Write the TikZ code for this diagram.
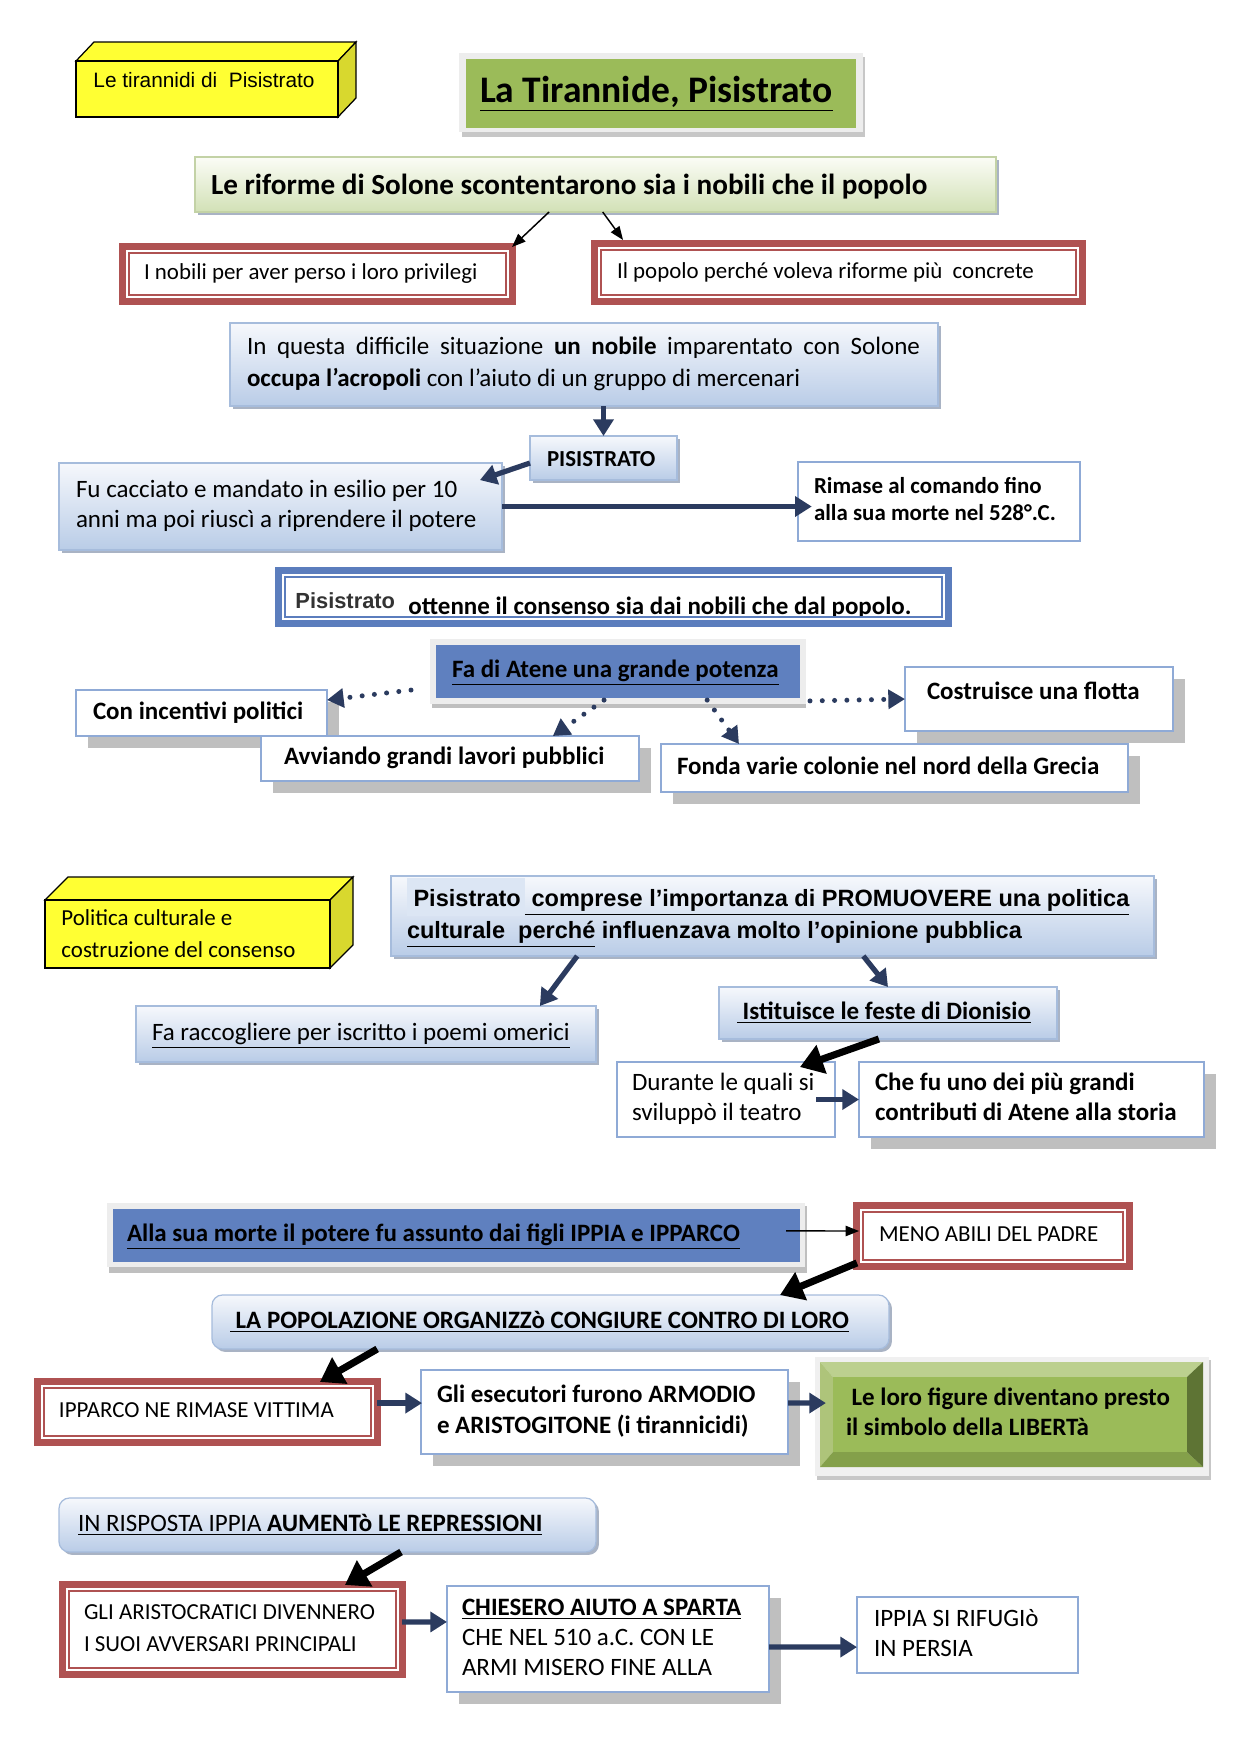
\documentclass[tikz,border=0pt]{standalone}
\usepackage{fontspec}
\setmainfont{Carlito}
\newfontfamily\arialf{Liberation Sans}
\usetikzlibrary{arrows.meta,calc,shadows}
\definecolor{navy}{HTML}{2B3B5F}
\definecolor{redF}{HTML}{AF5252}
\definecolor{blueF}{HTML}{5B7DBD}
\definecolor{fillB}{HTML}{5F80BF}
\definecolor{wbord}{HTML}{8FAAD6}
\definecolor{gtop}{HTML}{F6F8FC}
\definecolor{gbot}{HTML}{B9CCE7}
\definecolor{gbord}{HTML}{A6BCDC}
\definecolor{gshad}{HTML}{A9B3C4}
\definecolor{ggtop}{HTML}{FBFCF6}
\definecolor{ggbot}{HTML}{D2E1B6}
\definecolor{ggbord}{HTML}{C3D2A6}
\definecolor{olive}{HTML}{9BBB59}
\definecolor{shgrey}{HTML}{BFBFBF}
\definecolor{yel}{HTML}{FFFF33}
\definecolor{yelD}{HTML}{D8D82E}
\definecolor{hl}{HTML}{DCE6F4}
\definecolor{lbTop}{HTML}{BCD08F}
\definecolor{lbLeft}{HTML}{AEC47A}
\definecolor{lbBot}{HTML}{84A04A}
\definecolor{lbRight}{HTML}{5E7434}
\newcommand\mybox[8][]{%
  \pgfmathsetmacro\mbW{(#5-#3)*0.48}%
  \pgfmathsetmacro\mbH{(#6-#4)*0.48}%
  \pgfmathsetmacro\mbT{(#5-#3-2*#7)*0.48}%
  \pgfmathsetmacro\mbP{#7*0.48}%
  \node[anchor=north west, inner ysep=0pt, outer sep=0pt, minimum width=\mbW pt,
        minimum height=\mbH pt, inner xsep=\mbP pt, #1] (#2) at (#3,#4)
        {\makebox[\mbT pt][l]{\begin{tabular}{@{}l@{}}#8\end{tabular}}};}
\newcommand\dframe[2]{%
  \draw[draw=#2, line width=3.4pt] ([shift={(1.7pt,-1.7pt)}]#1.north west) rectangle ([shift={(-1.7pt,1.7pt)}]#1.south east);
  \draw[draw=#2, line width=0.7pt] ([shift={(4.8pt,-4.8pt)}]#1.north west) rectangle ([shift={(-4.8pt,4.8pt)}]#1.south east);}
\begin{document}
\begin{tikzpicture}[x=0.48pt,y=-0.48pt,
  f11/.style={font=\fontsize{11}{13.4}\selectfont},
  f12/.style={font=\fontsize{12}{14.4}\selectfont},
  bold12/.style={font=\bfseries\fontsize{12}{14.4}\selectfont},
  gradb/.style={draw=gbord, line width=0.6pt, top color=gtop, bottom color=gbot,
     drop shadow={shadow xshift=1.4pt,shadow yshift=-1.4pt,fill=gshad,opacity=1}},
  gradg/.style={draw=ggbord, line width=0.6pt, top color=ggtop, bottom color=ggbot,
     drop shadow={shadow xshift=1.4pt,shadow yshift=-1.4pt,fill=gshad,opacity=1}},
  wbox/.style={draw=wbord, line width=0.7pt, fill=white},
  wshad/.style={wbox, drop shadow={shadow xshift=5.8pt,shadow yshift=-5.8pt,fill=shgrey,opacity=1}},
  navyarr/.style={draw=navy, line width=2.5pt, -{Triangle[length=8pt,width=9.5pt]}},
  blackarr/.style={draw=black, line width=3.4pt, -{Triangle[length=11pt,width=14pt]}},
  dotarr/.style={draw=navy, line width=2.4pt, line cap=round, dash pattern=on 0pt off 5.9pt,
     -{Triangle[length=8pt,width=9pt]}},
  thinarr/.style={draw=black, line width=0.7pt, -{Triangle[length=6.5pt,width=5pt]}}]
\useasboundingbox (0,0) rectangle (1240,1754);
\fill[white] (0,0) rectangle (1240,1754);

% ---- yellow 3D box 1
\filldraw[fill=yel, draw=black, line width=0.6pt] (76,61) -- (94,42) -- (356,42) -- (338,61) -- cycle;
\filldraw[fill=yelD, draw=black, line width=0.6pt] (338,61) -- (356,42) -- (356,98) -- (338,117) -- cycle;
\filldraw[fill=yel, draw=black, line width=0.6pt] (76,61) rectangle (338,117);
\node[anchor=west, inner sep=0pt, font=\arialf\fontsize{10}{12}\selectfont] (yel1t) at (93,80) {Le tirannidi di\ \ Pisistrato};

% ---- title
\fill[black!22] (462,57) rectangle (865,137);
\fill[black!7] (459,53) rectangle (863,132);
\mybox[fill=olive, font=\bfseries\fontsize{18}{22}\selectfont]{title}{466}{59}{856}{128}{14}{\underline{La Tirannide, Pisistrato}}

% ---- Solone
\mybox[gradg, font=\bfseries\fontsize{14}{17}\selectfont]{solone}{195}{157}{996}{212}{16}{\raisebox{-1.4pt}{Le riforme di Solone scontentarono sia i nobili che il popolo}}

\mybox[fill=white, f11]{nobili}{119}{243}{516}{305}{25}{I nobili per aver perso i loro privilegi}
\dframe{nobili}{redF}
\mybox[fill=white, f11]{popolo}{591}{240}{1086}{305}{26}{Il popolo perché voleva riforme più\ \ concrete}
\dframe{popolo}{redF}

\mybox[gradb, font=\fontsize{12}{15.4}\selectfont]{questa}{230}{323}{938}{406}{17}{\makebox[323pt][s]{In questa difficile situazione \textbf{un nobile} imparentato con Solone}\\ \textbf{occupa l’acropoli} con l’aiuto di un gruppo di mercenari}

\mybox[gradb, font=\bfseries\fontsize{11}{13.4}\selectfont]{pis}{530}{436}{677}{480}{17}{\raisebox{-1.4pt}{PISISTRATO}}
\mybox[gradb, f12]{fu}{59}{463}{502}{550}{17}{Fu cacciato e mandato in esilio per 10\\anni ma poi riuscì a riprendere il potere}
\mybox[wbox, font=\bfseries\fontsize{11}{13}\selectfont]{rimase}{798}{462}{1080}{541}{16}{Rimase al comando fino\\alla sua morte nel 528°.C.}

% ---- ottenne
\mybox[fill=white]{ottenne}{275}{567}{952}{627}{10}{}
\dframe{ottenne}{blueF}
\begin{scope}
\clip ([shift={(5.6pt,-5.6pt)}]ottenne.north west) rectangle ([shift={(-5.6pt,5.6pt)}]ottenne.south east);
\node[anchor=base west, inner sep=0pt, text=black!80, font=\arialf\bfseries\fontsize{10.5}{12}\selectfont] (ott1) at (295,608) {Pisistrato};
\node[anchor=base west, inner sep=0pt, font=\bfseries\fontsize{12}{14}\selectfont] (ott2) at (408,614) {ottenne il consenso sia dai nobili che dal popolo.};
\end{scope}

% ---- Fa di Atene
\fill[black!25] (432,643) rectangle (806,708);
\fill[black!7] (430,639) rectangle (806,704);
\mybox[fill=fillB, bold12]{fa}{436}{645}{800}{698}{16}{\underline{Fa di Atene una grande potenza}}

\mybox[wshad, bold12]{con}{76}{690}{327}{736}{17}{Con incentivi politici}
\mybox[wshad, bold12]{avv}{261}{736}{639}{781}{23}{Avviando grandi lavori pubblici}
\mybox[wshad, bold12]{costr}{905}{667}{1173}{731}{22}{\raisebox{3.2pt}{Costruisce una flotta}}
\mybox[wshad, bold12]{fonda}{661}{744}{1128}{792}{16}{Fonda varie colonie nel nord della Grecia}

% ---- yellow 3D box 2
\filldraw[fill=yel, draw=black, line width=0.6pt] (45,900) -- (68,877) -- (353,877) -- (330,900) -- cycle;
\filldraw[fill=yelD, draw=black, line width=0.6pt] (330,900) -- (353,877) -- (353,945) -- (330,968) -- cycle;
\filldraw[fill=yel, draw=black, line width=0.6pt] (45,900) rectangle (330,968);
\node[anchor=west, inner sep=0pt, align=left, font=\fontsize{11}{15.4}\selectfont] (yel2t) at (61,934) {Politica culturale e\\costruzione del consenso};

% ---- cultural policy
\mybox[gradb, font=\arialf\bfseries\fontsize{11.3}{15.4}\selectfont]{pisc}{391}{876}{1154}{956}{16}{{\setlength\fboxsep{0pt}\smash{\colorbox{hl}{\rule[-4.8pt]{0pt}{18.2pt}\ Pisistrato\hspace{2pt}}}}\underline{\ comprese l’importanza di PROMUOVERE una politica}\\ \underline{culturale\ \ perché} influenzava molto l’opinione pubblica}
\mybox[gradb, f12]{racc}{136}{1006}{596}{1062}{16}{\underline{Fa raccogliere per iscritto i poemi omerici}}
\mybox[gradb, bold12]{isti}{719}{987}{1057}{1039}{18}{\underline{\ Istituisce le feste di Dionisio}}
\mybox[wbox, f12]{durante}{617}{1062}{835}{1137}{15}{Durante le quali si\\sviluppò il teatro}
\mybox[wshad, bold12]{chefu}{859}{1062}{1204}{1137}{16}{Che fu uno dei più grandi\\contributi di Atene alla storia}

% ---- sons
\fill[black!25] (109,1206) rectangle (807,1273);
\fill[black!7] (107,1203) rectangle (805,1267);
\mybox[fill=fillB, bold12]{alla}{113}{1209}{800}{1262}{14}{\underline{Alla sua morte il potere fu assunto dai figli IPPIA e IPPARCO}}
\mybox[fill=white, f11]{meno}{853}{1202}{1133}{1270}{26}{MENO ABILI DEL PADRE}
\dframe{meno}{redF}
\mybox[gradb, rounded corners=5pt, bold12]{lapop}{212}{1295}{889}{1349}{18}{\underline{\ LA POPOLAZIONE ORGANIZZò CONGIURE CONTRO DI LORO}}
\mybox[fill=white, f11]{ipparco}{34}{1378}{381}{1446}{25}{IPPARCO NE RIMASE VITTIMA}
\dframe{ipparco}{redF}
\mybox[wshad, font=\bfseries\fontsize{12}{14.9}\selectfont]{esec}{421}{1370}{788}{1454}{16}{Gli esecutori furono ARMODIO\\e ARISTOGITONE (i tirannicidi)}

% bevelled green box
\fill[black!22] (817,1360) rectangle (1211,1480);
\fill[black!6] (815,1357) rectangle (1209,1476);
\fill[lbTop] (820,1362) -- (1203,1362) -- (1187,1377) -- (833,1377) -- cycle;
\fill[lbLeft] (820,1362) -- (833,1377) -- (833,1452) -- (820,1467) -- cycle;
\fill[lbBot] (820,1467) -- (833,1452) -- (1187,1452) -- (1203,1467) -- cycle;
\fill[lbRight] (1203,1362) -- (1187,1377) -- (1187,1452) -- (1203,1467) -- cycle;
\mybox[fill=olive, bold12]{lib}{833}{1377}{1187}{1452}{13}{\ Le loro figure diventano presto\\il simbolo della LIBERTà}

% ---- Ippia
\mybox[gradb, rounded corners=5pt, f12]{risposta}{59}{1498}{596}{1552}{19}{\underline{IN RISPOSTA IPPIA \textbf{AUMENTò LE REPRESSIONI}}}
\mybox[fill=white, font=\fontsize{11}{15.4}\selectfont]{aristoc}{59}{1581}{406}{1678}{25}{GLI ARISTOCRATICI DIVENNERO\\I SUOI AVVERSARI PRINCIPALI}
\dframe{aristoc}{redF}
\mybox[wshad, f12]{chiesero}{447}{1586}{769}{1692}{15}{\textbf{\underline{CHIESERO AIUTO A SPARTA}}\\CHE NEL 510 a.C. CON LE\\ARMI MISERO FINE ALLA}
\mybox[wbox, f12]{ippia}{857}{1597}{1078}{1673}{17}{IPPIA SI RIFUGIò\\IN PERSIA}

% ---- connectors
\draw[thinarr] ($(solone.south west)!0.442!(solone.south east)$) -- ([xshift=-1.9pt,yshift=-1.9pt]nobili.north east);
\draw[thinarr] ($(solone.south west)!0.509!(solone.south east)$) -- ([xshift=15.4pt]popolo.north west);
\draw[navyarr] (questa.south -| pis.north) -- (pis.north);
\draw[navyarr] ([yshift=-2.4pt]pis.west) -- ([xshift=-10.6pt,yshift=-8.2pt]fu.north east);
\draw[navyarr] (fu.east) -- ($(rimase.west |- fu.east)+(6.6pt,0)$);
\draw[dotarr] ($(fa.west)+(-12pt,-8.9pt)$) -- ([yshift=-4.8pt]con.north east);
\draw[dotarr] ($(fa.south)+(-6.7pt,-1pt)$) -- ($(avv.north west)!0.772!(avv.north east)$);
\draw[dotarr] ($(fa.south west)!0.745!(fa.south east)+(0,-1pt)$) -- ($(fonda.north west)!0.167!(fonda.north east)$);
\draw[dotarr] ($(fa.south east)+(4.8pt,-1.4pt)$) -- (costr.west);
\draw[navyarr] ($(pisc.south west)!0.244!(pisc.south east)$) -- ($(racc.north west)!0.878!(racc.north east)$);
\draw[navyarr] ($(pisc.south west)!0.619!(pisc.south east)$) -- (isti.north);
\draw[blackarr] ($(isti.south west)!0.473!(isti.south east)$) -- ([xshift=-16.8pt,yshift=-2.4pt]durante.north east);
\draw[navyarr] ($(durante.east)+(-9pt,0)$) -- (chefu.west);
\draw[thinarr] ($(alla.east)+(-6.7pt,2.2pt)$) -- ($(meno.west)+(2.9pt,2.4pt)$);
\draw[blackarr] ($(meno.south west)+(1.9pt,3.4pt)$) -- ($(lapop.north west)!0.839!(lapop.north east)$);
\draw[blackarr] ($(lapop.south west)!0.244!(lapop.south east)$) -- ($(ipparco.north west)!0.824!(ipparco.north east)+(0,-1.9pt)$);
\draw[navyarr] ($(ipparco.east)+(-1.9pt,4.3pt)$) -- ($(esec.west)+(0.5pt,4.3pt)$);
\draw[navyarr] ($(esec.east)+(0,4.3pt)$) -- ($(lib.west)+(-3.4pt,5.5pt)$);
\draw[blackarr] ($(risposta.south west)!0.637!(risposta.south east)$) -- ($(aristoc.north west)!0.824!(aristoc.north east)+(0,-1.9pt)$);
\draw[navyarr] ($(aristoc.east)+(-1.9pt,3.6pt)$) -- ($(chiesero.west)+(0,8.2pt)$);
\draw[navyarr] ($(chiesero.east)+(0,-3.8pt)$) -- ($(ippia.west)+(0,-5.8pt)$);
\end{tikzpicture}
\end{document}
